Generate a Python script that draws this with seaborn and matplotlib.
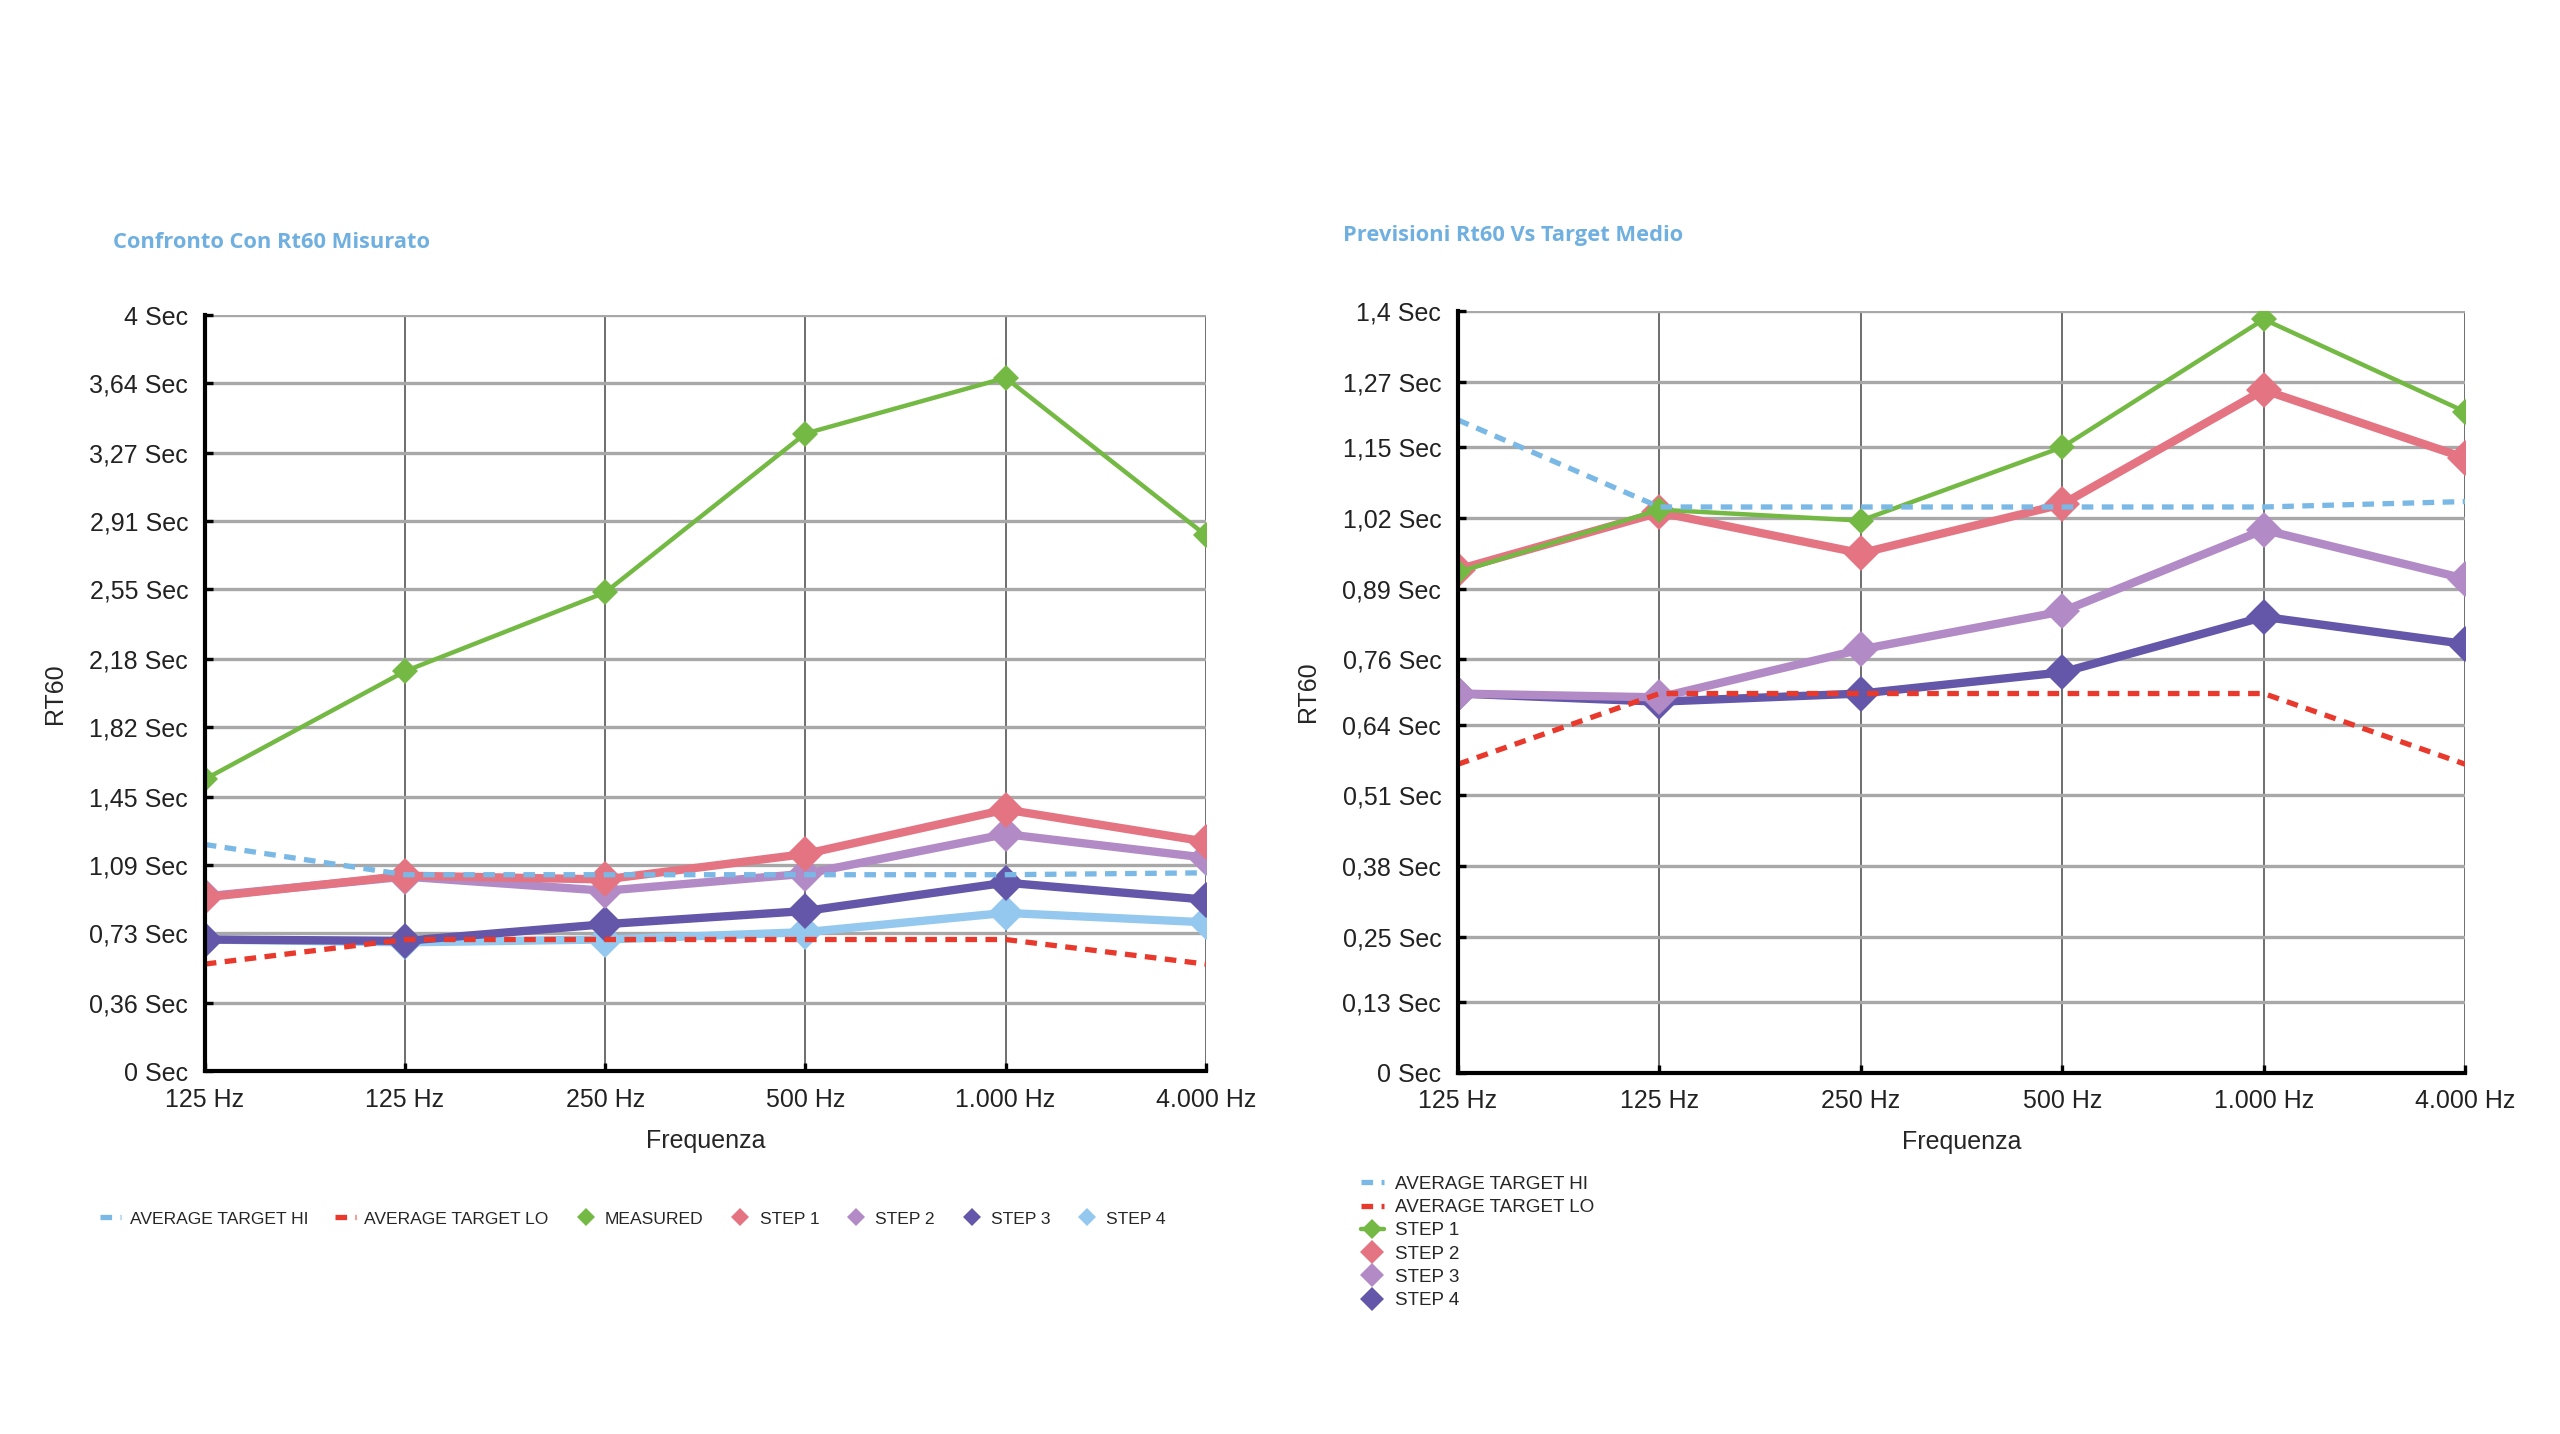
import numpy as np
import pandas as pd
import matplotlib
matplotlib.use("Agg")
import matplotlib.pyplot as plt
from matplotlib.lines import Line2D
import seaborn as sns

# ---------------- data ----------------
freq_labels = ["125 Hz", "125 Hz", "250 Hz", "500 Hz", "1.000 Hz", "4.000 Hz"]
target_hi = [1.20, 1.04, 1.04, 1.04, 1.04, 1.05]
target_lo = [0.567, 0.697, 0.697, 0.697, 0.697, 0.567]
measured = [1.545, 2.117, 2.534, 3.375, 3.67, 2.837]
step1 = [0.92, 1.035, 1.015, 1.15, 1.385, 1.215]
step2 = [0.925, 1.03, 0.955, 1.045, 1.255, 1.13]
step3 = [0.697, 0.69, 0.778, 0.848, 0.998, 0.908]
step4 = [0.697, 0.682, 0.697, 0.736, 0.838, 0.788]

left_ticks = [0, 0.36, 0.73, 1.09, 1.45, 1.82, 2.18, 2.55, 2.91, 3.27, 3.64, 4]
left_tick_labels = ["0 Sec", "0,36 Sec", "0,73 Sec", "1,09 Sec", "1,45 Sec", "1,82 Sec",
                    "2,18 Sec", "2,55 Sec", "2,91 Sec", "3,27 Sec", "3,64 Sec", "4 Sec"]
right_ticks = [0, 0.13, 0.25, 0.38, 0.51, 0.64, 0.76, 0.89, 1.02, 1.15, 1.27, 1.4]
right_tick_labels = ["0 Sec", "0,13 Sec", "0,25 Sec", "0,38 Sec", "0,51 Sec", "0,64 Sec",
                     "0,76 Sec", "0,89 Sec", "1,02 Sec", "1,15 Sec", "1,27 Sec", "1,4 Sec"]

GREEN = "#74b944"
PINK = "#e47482"
LPURPLE = "#b28bc6"
DPURPLE = "#6456a8"
LBLUE = "#94c8ee"
HI_BLUE = "#7ab8e6"
LO_RED = "#e8392c"
TITLE_BLUE = "#6fb0e0"

sns.set_theme(style="white")
plt.rcParams['font.family'] = ['Liberation Sans Narrow', 'Liberation Sans', 'DejaVu Sans']

fig = plt.figure(figsize=(12.8, 7.17), dpi=200)
axL = fig.add_axes([0.080, 0.253, 0.391, 0.527])
axR = fig.add_axes([0.5695, 0.252, 0.3935, 0.531])

pos = np.arange(len(freq_labels))


def draw(ax, series, yticks, ylabels, ymax):
    # series: list of (values, color, lw, marker_size)
    for vals, color, lw, ms in series:
        df = pd.DataFrame({"x": pos, "y": vals})
        sns.lineplot(data=df, x="x", y="y", ax=ax, color=color, lw=lw, marker="D",
                     markersize=ms, markeredgewidth=0, zorder=3, legend=False)
    for vals, color in [(target_hi, HI_BLUE), (target_lo, LO_RED)]:
        df = pd.DataFrame({"x": pos, "y": vals})
        sns.lineplot(data=df, x="x", y="y", ax=ax, color=color, lw=1.9,
                     dashes=False, zorder=4, legend=False)
        ax.lines[-1].set_dashes([2.2, 1.6])
    ax.set_xlim(0, len(freq_labels) - 1)
    ax.set_ylim(0, ymax)
    ax.set_xticks(pos)
    ax.set_xticklabels(freq_labels, fontsize=9)
    ax.set_yticks(yticks)
    ax.set_yticklabels(ylabels, fontsize=9)
    ax.grid(axis="y", color="#a8a8a8", lw=1.2, zorder=0)
    ax.grid(axis="x", color="#555555", lw=0.6, zorder=0)
    for s in ["top", "right"]:
        ax.spines[s].set_visible(False)
    for s in ["left", "bottom"]:
        ax.spines[s].set_color("black")
        ax.spines[s].set_linewidth(1.5)
        ax.spines[s].set_zorder(5)
    ax.tick_params(axis="both", direction="in", length=3, width=1.2, colors="black",
                   labelcolor="#222222", left=True, bottom=True, pad=6)
    ax.set_xlabel("Frequenza", fontsize=9, labelpad=6)
    ax.set_ylabel("RT60", fontsize=9, labelpad=8)
    ax.set_axisbelow(True)


draw(axL, [(step4, LBLUE, 3.0, 9), (step3, DPURPLE, 3.0, 9), (step2, LPURPLE, 3.0, 9),
           (step1, PINK, 3.0, 9), (measured, GREEN, 1.6, 6.5)],
     left_ticks, left_tick_labels, 4)
draw(axR, [(step4, DPURPLE, 3.0, 9), (step3, LPURPLE, 3.0, 9), (step2, PINK, 3.0, 9),
           (step1, GREEN, 1.6, 6.5)],
     right_ticks, right_tick_labels, 1.4)

fig.text(0.044, 0.831, "Confronto Con Rt60 Misurato", color=TITLE_BLUE, fontsize=7.9,
         fontweight="bold", family=["Open Sans", "DejaVu Sans"], va="center")
fig.text(0.5245, 0.836, "Previsioni Rt60 Vs Target Medio", color=TITLE_BLUE, fontsize=7.9,
         fontweight="bold", family=["Open Sans", "DejaVu Sans"], va="center")


def dash_handle(color, label):
    return Line2D([], [], color=color, lw=1.9, dashes=[2.2, 1.6], label=label)


def diamond_handle(color, label, ms):
    return Line2D([], [], color=color, lw=0, marker="D", markersize=ms,
                  markeredgewidth=0, label=label)


left_handles = [dash_handle(HI_BLUE, "AVERAGE TARGET HI"),
                dash_handle(LO_RED, "AVERAGE TARGET LO"),
                diamond_handle(GREEN, "MEASURED", 4.5),
                diamond_handle(PINK, "STEP 1", 4.5),
                diamond_handle(LPURPLE, "STEP 2", 4.5),
                diamond_handle(DPURPLE, "STEP 3", 4.5),
                diamond_handle(LBLUE, "STEP 4", 4.5)]
fig.legend(handles=left_handles, loc="center left", bbox_to_anchor=(0.033, 0.150),
           ncol=7, frameon=False, fontsize=6.3, handlelength=1.2, handletextpad=0.5,
           columnspacing=1.5)

right_handles = [dash_handle(HI_BLUE, "AVERAGE TARGET HI"),
                 dash_handle(LO_RED, "AVERAGE TARGET LO"),
                 Line2D([], [], color=GREEN, lw=1.6, marker="D", markersize=5,
                        markeredgewidth=0, label="STEP 1"),
                 diamond_handle(PINK, "STEP 2", 6),
                 diamond_handle(LPURPLE, "STEP 3", 6),
                 diamond_handle(DPURPLE, "STEP 4", 6)]
fig.legend(handles=right_handles, loc="upper left", bbox_to_anchor=(0.525, 0.192),
           ncol=1, frameon=False, fontsize=6.8, handlelength=1.2, handletextpad=0.6,
           labelspacing=0.32)

fig.savefig("out.png", dpi=200, facecolor="white")
